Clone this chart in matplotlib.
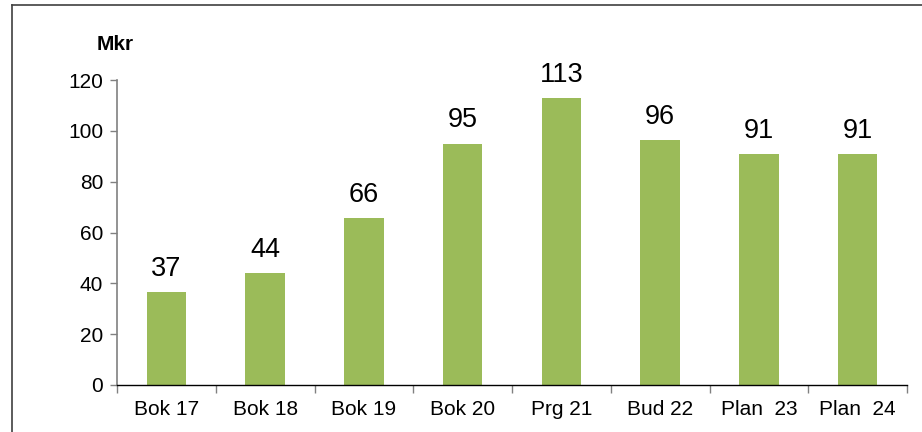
import matplotlib
matplotlib.use("Agg")
import matplotlib.pyplot as plt
from matplotlib.lines import Line2D

plt.rcParams['font.family'] = ['Liberation Sans', 'DejaVu Sans']

categories = ["Bok 17", "Bok 18", "Bok 19", "Bok 20", "Prg 21", "Bud 22", "Plan  23", "Plan  24"]
values = [36.6, 44.0, 65.7, 94.9, 112.9, 96.4, 90.8, 90.8]
labels = ["37", "44", "66", "95", "113", "96", "91", "91"]
yticks = [0, 20, 40, 60, 80, 100, 120]

W, H = 922, 432
fig = plt.figure(figsize=(W / 100, H / 100), dpi=100)
ax = fig.add_axes([117 / W, 1 - 385 / H, (907 - 117) / W, (385 - 80) / H])

x = list(range(len(categories)))
ax.bar(x, values, width=0.4, color="#9BBB59", zorder=2)
for xi, v, lab in zip(x, values, labels):
    ax.annotate(lab, (xi, v), xytext=(0, 7.5), textcoords="offset points",
                ha="center", va="bottom", fontsize=19.5, color="black")

ax.set_xlim(-0.5, len(categories) - 0.5)
ax.set_ylim(0, 120)
ax.set_yticks(yticks)
ax.set_yticklabels([str(t) for t in yticks], fontsize=15)
ax.tick_params(axis="y", direction="out", length=5, width=1, color="#808080", pad=5)

ax.set_xticks(x)
ax.set_xticklabels(categories, fontsize=15)
ax.tick_params(axis="x", which="major", length=0, pad=11)
ax.set_xticks([i - 0.5 for i in range(len(categories) + 1)], minor=True)
ax.tick_params(axis="x", which="minor", direction="out", length=6, width=1, color="#808080")

for s in ["top", "right"]:
    ax.spines[s].set_visible(False)
ax.spines["left"].set_color("#808080")
ax.spines["left"].set_linewidth(1.2)
ax.spines["bottom"].set_color("black")
ax.spines["bottom"].set_linewidth(1)

fig.text(97 / W, 1 - 45 / H, "Mkr", fontsize=15, fontweight="bold", va="center", ha="left")

# outer frame (left and top edges visible)
fig.add_artist(Line2D([12 / W, 12 / W], [0, 1 - 5 / H], transform=fig.transFigure, color="#404040", lw=1.2))
fig.add_artist(Line2D([12 / W, 1], [1 - 5 / H, 1 - 5 / H], transform=fig.transFigure, color="#404040", lw=1.2))

fig.savefig("out.png", dpi=100)
